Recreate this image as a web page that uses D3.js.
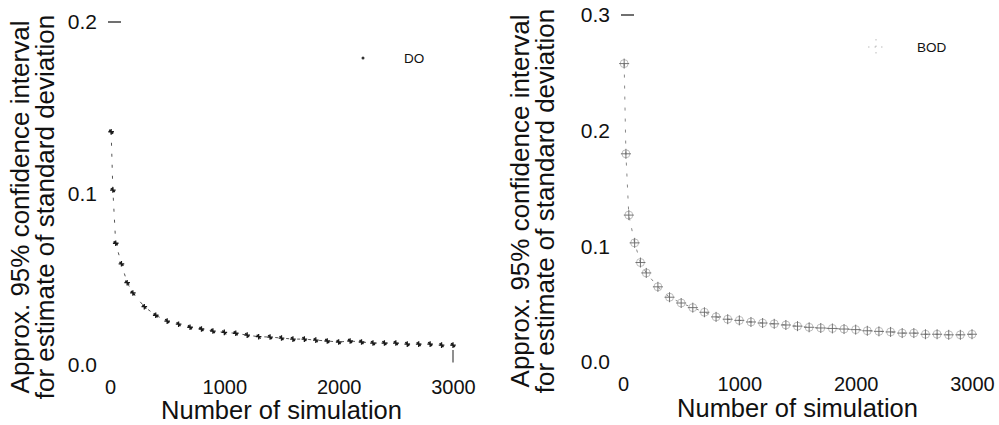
<!DOCTYPE html>
<html>
<head>
<meta charset="utf-8">
<script src="https://cdn.jsdelivr.net/npm/d3@7"></script>
<style>
  body { margin: 0; background: #fff; }
  svg { display: block; font-family: "Liberation Sans", Arial, sans-serif; }
</style>
</head>
<body>
<script>
// simulation counts (same for both panels)
const simN = [10, 25, 50, 100, 150, 200, 300, 400, 500, 600, 700, 800, 900, 1000,
  1100, 1200, 1300, 1400, 1500, 1600, 1700, 1800, 1900, 2000,
  2100, 2200, 2300, 2400, 2500, 2600, 2700, 2800, 2900, 3000];

const doValues = [0.136, 0.102, 0.071, 0.059, 0.048, 0.042, 0.034, 0.029, 0.0256, 0.0238, 0.022, 0.021, 0.0198, 0.019,
  0.0185, 0.0174, 0.0165, 0.0163, 0.0157, 0.0151, 0.0151, 0.0145, 0.014, 0.0134,
  0.014, 0.0134, 0.0128, 0.0128, 0.0128, 0.0122, 0.0122, 0.0122, 0.0116, 0.0116];

const bodValues = [0.258, 0.18, 0.127, 0.103, 0.086, 0.077, 0.065, 0.056, 0.051, 0.047, 0.043, 0.039, 0.037, 0.036,
  0.0346, 0.0337, 0.033, 0.032, 0.031, 0.030, 0.0294, 0.029, 0.0285, 0.028,
  0.027, 0.0265, 0.026, 0.025, 0.025, 0.024, 0.024, 0.0235, 0.0235, 0.024];

// lower whisker seen under the last DO point
const doLastLow = 0.0015;

const xTicks = [0, 1000, 2000, 3000];
const doYTicks = [0.0, 0.1, 0.2];
const bodYTicks = [0.0, 0.1, 0.2, 0.3];

const yTitle = ["Approx. 95% confidence interval", "for estimate of standard deviation"];
const xTitle = "Number of simulation";

const W = 999, H = 425;
const svg = d3.select("body").append("svg")
  .attr("width", W)
  .attr("height", H);

function drawPanel(opts) {
  const x = d3.scaleLinear().domain([0, 3000]).range(opts.xRange);
  const y = d3.scaleLinear().domain([0, opts.yMax]).range(opts.yRange);
  const g = svg.append("g");

  // y axis: labels only, with a dash at the top tick
  const yAxis = g.append("g")
    .attr("transform", `translate(${opts.xRange[0]},0)`)
    .call(d3.axisLeft(y).tickValues(opts.yTicks).tickFormat(d3.format(".1f")).tickSize(0).tickPadding(13));
  yAxis.select(".domain").remove();
  yAxis.selectAll("text").attr("font-size", 21).attr("font-family", "Liberation Sans, Arial, sans-serif").attr("fill", "#111");
  g.append("line")
    .attr("x1", x(0) - 2).attr("x2", x(0) + 11)
    .attr("y1", y(opts.yMax)).attr("y2", y(opts.yMax))
    .attr("stroke", "#222").attr("stroke-width", 1.3);

  // x axis
  const xAxis = g.append("g")
    .attr("transform", `translate(0,${opts.yRange[0]})`)
    .call(d3.axisBottom(x).tickValues(xTicks).tickFormat(d3.format("d")).tickSize(0).tickPadding(opts.xPad));
  xAxis.select(".domain").remove();
  xAxis.selectAll("text").attr("font-size", 20).attr("font-family", "Liberation Sans, Arial, sans-serif").attr("fill", "#111");

  // titles
  g.append("text")
    .attr("x", (opts.xRange[0] + opts.xRange[1]) / 2)
    .attr("y", opts.xTitleY)
    .attr("text-anchor", "middle")
    .attr("font-size", 25.5)
    .attr("fill", "#111")
    .text(xTitle);

  yTitle.forEach((line, i) => {
    g.append("text")
      .attr("transform", `translate(${opts.yTitleX[i]},${opts.yTitleMid}) rotate(-90)`)
      .attr("text-anchor", "middle")
      .attr("font-size", 26)
      .attr("fill", "#111")
      .text(line);
  });

  const pts = simN.map((n, i) => [n, opts.values[i]]);

  // dashed connecting curve
  g.append("path")
    .datum(pts)
    .attr("fill", "none")
    .attr("stroke", opts.lineColor)
    .attr("stroke-width", 1)
    .attr("stroke-dasharray", "3,8")
    .attr("d", d3.line().x(d => x(d[0])).y(d => y(d[1])));

  const marks = g.append("g").selectAll("g")
    .data(pts)
    .join("g")
    .attr("transform", d => `translate(${x(d[0])},${y(d[1])})`);
  opts.marker(marks);

  // legend
  const lg = g.append("g").attr("transform", `translate(${opts.legend[0]},${opts.legend[1]})`);
  opts.legendMarker(lg);
  lg.append("text")
    .attr("x", opts.legendGap)
    .attr("y", 5)
    .attr("font-size", 13.5)
    .attr("fill", "#111")
    .text(opts.name);

  return { x, y, g };
}

// star marker for DO
function starMarker(sel) {
  const s = 2.8;
  sel.append("path")
    .attr("d", `M${-s},0H${s}M0,${-s}V${s}M${-s * 0.7},${-s * 0.7}L${s * 0.7},${s * 0.7}`)
    .attr("stroke", "#1a1a1a")
    .attr("stroke-width", 1.3)
    .attr("fill", "none");
}

function tinyDot(sel) {
  sel.append("circle").attr("r", 1.5).attr("fill", "#333");
}

// circled plus marker for BOD
function circlePlusMarker(sel) {
  const r = 4;
  sel.append("circle")
    .attr("r", r)
    .attr("fill", "none")
    .attr("stroke", "#b5b5b5")
    .attr("stroke-width", 0.9);
  sel.append("path")
    .attr("d", `M${-r - 1},0H${r + 1}M0,${-r - 1}V${r + 1}`)
    .attr("stroke", "#666")
    .attr("stroke-width", 0.9)
    .attr("fill", "none");
}

function faintPlus(sel) {
  const r = 8;
  sel.append("path")
    .attr("d", `M${-r},0H${r}M0,${-r}V${r}`)
    .attr("stroke", "#aaa")
    .attr("stroke-width", 0.8)
    .attr("stroke-dasharray", "1.5,5")
    .attr("fill", "none");
}

const left = drawPanel({
  name: "DO",
  values: doValues,
  yMax: 0.2,
  yTicks: doYTicks,
  xRange: [110, 453],
  yRange: [365, 22],
  xPad: 15,
  xTitleY: 419,
  yTitleX: [29, 54],
  yTitleMid: 207,
  lineColor: "#555",
  marker: starMarker,
  legendMarker: tinyDot,
  legend: [363, 58],
  legendGap: 41
});

// whisker under the last DO point
left.g.append("line")
  .attr("x1", left.x(simN[simN.length - 1])).attr("x2", left.x(simN[simN.length - 1]))
  .attr("y1", left.y(doValues[doValues.length - 1]) + 5).attr("y2", left.y(doLastLow))
  .attr("stroke", "#333").attr("stroke-width", 1.1);

drawPanel({
  name: "BOD",
  values: bodValues,
  yMax: 0.3,
  yTicks: bodYTicks,
  xRange: [623, 972],
  yRange: [362, 15],
  xPad: 15,
  xTitleY: 417,
  yTitleX: [529, 554],
  yTitleMid: 201,
  lineColor: "#888",
  marker: circlePlusMarker,
  legendMarker: faintPlus,
  legend: [876, 47],
  legendGap: 41
});
</script>
</body>
</html>
